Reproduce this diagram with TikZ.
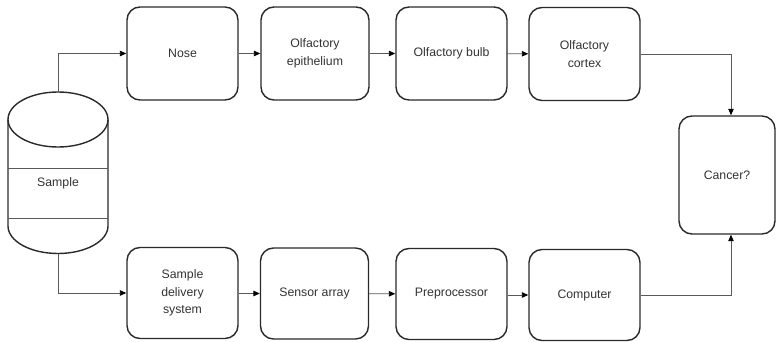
\documentclass[tikz,border=0pt]{standalone}
\usepackage{fontspec}
\setmainfont{Liberation Sans}
\usetikzlibrary{arrows.meta,calc}
\definecolor{edge}{HTML}{2A2A2A}
\definecolor{conncol}{HTML}{5A5A5A}
\definecolor{txt}{HTML}{333333}
\begin{document}
\begin{tikzpicture}[x=1pt,y=-1pt,
  box/.style={draw=edge,line width=1.4pt,rounded corners=13pt,minimum width=111pt,minimum height=93pt,inner sep=0pt,align=center,text=txt,font=\fontsize{12.3}{17.5}\selectfont},
  narrow/.style={minimum width=108pt},
  lowbox/.style={minimum height=91pt},
  conn/.style={draw=conncol,line width=0.9pt,-{Triangle[length=6.5pt,width=5.5pt,color=black]}},
  cyl/.style={draw=edge,line width=1.4pt},
  cylsep/.style={draw=conncol,line width=0.9pt}]
\useasboundingbox (0,0) rectangle (776,342);
% top row
\node[box] (nose) at (182.5,53.5) {Nose};
\node[box,narrow] (epi) at (315,53.5) {Olfactory\\epithelium};
\node[box] (bulb) at (451.5,53.5) {Olfactory bulb};
\node[box] (cortex) at (584.5,54) {Olfactory\\cortex};
% bottom row
\node[box,lowbox] (delivery) at (182.5,293) {Sample\\delivery\\system};
\node[box,lowbox,narrow] (sensor) at (314.5,293.5) {Sensor array};
\node[box,lowbox] (pre) at (451.5,294) {Preprocessor};
\node[box,lowbox] (computer) at (584.5,295) {Computer};
% result
\node[box,minimum width=96pt,minimum height=118pt] (cancer) at (727,175) {Cancer?};
% cylinder
\draw[cyl] (8,119.5) -- (8,226) arc[start angle=180,end angle=0,x radius=50,y radius=27.5] -- (108,119.5);
\draw[cyl] (58,119.5) ellipse[x radius=50,y radius=27.5];
\draw[cylsep] (8,168) -- (108,168);
\draw[cylsep] (8,218) -- (108,218);
\node[text=txt,font=\fontsize{12.3}{15}\selectfont] (sample) at (58,183) {Sample};
\coordinate (cyltop) at (58,92);
\coordinate (cylbot) at (58,253.5);
% connectors
\draw[conn] (cyltop) |- (nose.west);
\draw[conn] (cylbot) |- (delivery.west);
\draw[conn] (nose) -- (epi);
\draw[conn] (epi) -- (bulb);
\draw[conn] (bulb) -- (cortex);
\draw[conn] (delivery.east |- sensor.west) -- (sensor.west);
\draw[conn] (sensor) -- (pre);
\draw[conn] (pre.east |- computer.west) -- (computer.west);
\draw[conn] (cortex.east) -| ([xshift=4pt]cancer.north);
\draw[conn] (computer.east) -| ([xshift=4pt]cancer.south);
\end{tikzpicture}
\end{document}
